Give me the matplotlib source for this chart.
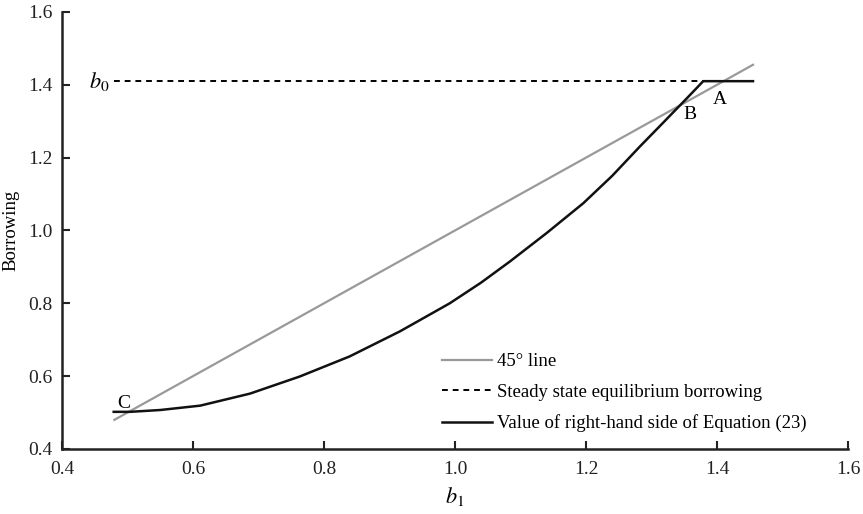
import matplotlib
matplotlib.use("Agg")
import matplotlib.pyplot as plt

plt.rcParams['font.family'] = ['Liberation Serif', 'DejaVu Serif']
plt.rcParams['mathtext.fontset'] = 'stix'

# Data
line45_x = [0.48, 1.455]
line45_y = [0.48, 1.455]
b0 = 1.41
steady_x = [0.48, 1.455]
rhs_x = [0.479, 0.504, 0.55, 0.611, 0.687, 0.763, 0.839, 0.916, 0.992,
         1.04, 1.084, 1.14, 1.196, 1.24, 1.282, 1.32, 1.354, 1.379, 1.455]
rhs_y = [0.502, 0.502, 0.507, 0.519, 0.552, 0.599, 0.654, 0.723, 0.800,
         0.857, 0.915, 0.993, 1.075, 1.150, 1.230, 1.300, 1.363, 1.410, 1.410]

xticks = [0.4, 0.6, 0.8, 1.0, 1.2, 1.4, 1.6]
yticks = [0.4, 0.6, 0.8, 1.0, 1.2, 1.4, 1.6]

fig = plt.figure(figsize=(8.63, 5.14), dpi=100)
ax = fig.add_axes([0.0718, 0.1265, 0.9108, 0.8502])

ax.plot(line45_x, line45_y, color='#999999', lw=1.6, label='45\u00b0 line')
ax.plot(steady_x, [b0, b0], color='black', lw=1.4, ls=(0, (3, 2.5)),
        label='Steady state equilibrium borrowing')
ax.plot(rhs_x, rhs_y, color='#111111', lw=1.8,
        label='Value of right-hand side of Equation (23)')

ax.set_xlim(0.4, 1.6)
ax.set_ylim(0.4, 1.6)
ax.set_xticks(xticks)
ax.set_yticks(yticks)
ax.set_xticklabels([f"{t:.1f}" for t in xticks])
ax.set_yticklabels([f"{t:.1f}" for t in yticks])
ax.tick_params(direction='in', length=6, width=1.5, labelsize=14, pad=7,
               colors='#222222')
ax.tick_params(axis='x', pad=9)
for s in ['top', 'right']:
    ax.spines[s].set_visible(False)
for s in ['left', 'bottom']:
    ax.spines[s].set_linewidth(1.8)
    ax.spines[s].set_color('#222222')

ax.set_ylabel('Borrowing', fontsize=13.5, labelpad=6)
ax.set_xlabel(r'$b_1$', fontsize=16, labelpad=5)

ax.text(0.442, b0, r'$b_0$', fontsize=16, ha='left', va='center')
ax.text(1.405, 1.359, 'A', fontsize=14, ha='center', va='center')
ax.text(1.359, 1.318, 'B', fontsize=14, ha='center', va='center')
ax.text(0.495, 0.524, 'C', fontsize=14, ha='center', va='center')

leg = ax.legend(loc='lower left', bbox_to_anchor=(0.483, 0.038), frameon=False,
                fontsize=13.5, handlelength=2.7, handletextpad=0.25,
                labelspacing=0.72, borderpad=0, borderaxespad=0)

fig.savefig('out.png', dpi=100)
